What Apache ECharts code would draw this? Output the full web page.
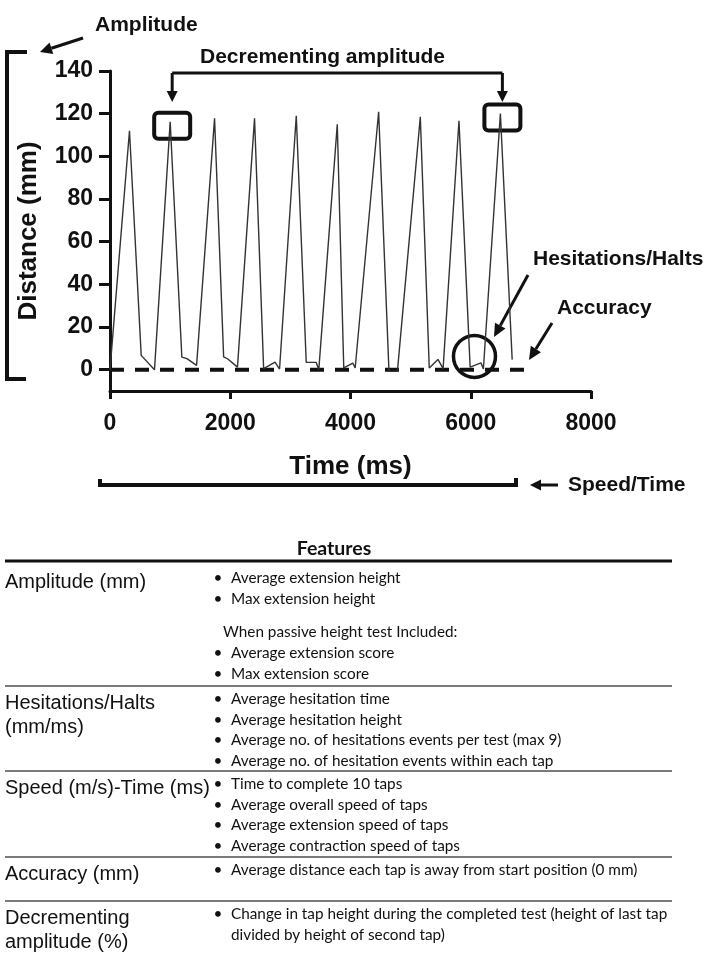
<!DOCTYPE html>
<html>
<head>
<meta charset="utf-8">
<title>Finger tapping trace</title>
<script src="https://cdn.jsdelivr.net/npm/echarts@6/dist/echarts.min.js"></script>
<style>
  html, body { margin: 0; padding: 0; background: #fff; }
  #chart { width: 719px; height: 958px; }
</style>
</head>
<body>
<div id="chart"></div>
<script>
// tap trace: time (ms) and distance (mm)
const tapTime = [0, 324, 519, 740, 1001, 1195, 1280, 1440, 1739, 1890, 1960, 2120,
  2404, 2555, 2745, 2820, 3098, 3264, 3430, 3473, 3780, 3888, 4038, 4078,
  4468, 4640, 4780, 5161, 5310, 5455, 5540, 5804, 5990, 6170, 6210, 6493, 6689]
const tapDist = [0, 112, 6.7, 0, 116.2, 5.9, 5.2, 2.0, 117.8, 6.0, 5.0, 1.2,
  117.8, 0.5, 3.5, 0.3, 119, 3.4, 3.4, 0, 115, 0.8, 3.1, 0.8,
  120.9, -0.8, -0.8, 118.5, 0.8, 4.8, 0.5, 116.7, 1.2, 3.2, 0.3, 120.1, 4.7]
// start position line (0 mm)
const baseTime = [0, 6900]
const baseDist = [0, 0]
const yTicks = [0, 20, 40, 60, 80, 100, 120, 140]
// hesitation highlighted by the circle (ms, mm)
const hesitationAt = [6062, 6.2]

const featureHeader = 'Features'
const featureNames = [
  ['Amplitude (mm)'],
  ['Hesitations/Halts', '(mm/ms)'],
  ['Speed (m/s)-Time (ms)'],
  ['Accuracy (mm)'],
  ['Decrementing', 'amplitude (%)']
]
// '~' = line without bullet, '' = small gap
const featureItems = [
  ['Average extension height', 'Max extension height', '',
    '~When passive height test Included:', 'Average extension score', 'Max extension score'],
  ['Average hesitation time', 'Average hesitation height',
    'Average no. of hesitations events per test (max 9)', 'Average no. of hesitation events within each tap'],
  ['Time to complete 10 taps', 'Average overall speed of taps',
    'Average extension speed of taps', 'Average contraction speed of taps'],
  ['Average distance each tap is away from start position (0 mm)'],
  ['Change in tap height during the completed test (height of last tap', '~divided by height of second tap)']
]

const ink = '#111'
const sans = '"Liberation Sans", Arial, sans-serif'
const bold = { fontFamily: sans, fontWeight: 'bold', color: ink }

const chart = echarts.init(document.getElementById('chart'))
chart.setOption({
  animation: false,
  backgroundColor: '#fff',
  grid: { left: 110, top: 71, width: 481, height: 320, outerBoundsMode: 'none' },
  xAxis: {
    type: 'value',
    min: 0,
    max: 8000,
    interval: 2000,
    name: 'Time (ms)',
    nameLocation: 'middle',
    nameGap: 63,
    nameTextStyle: Object.assign({ fontSize: 26 }, bold),
    axisLine: { onZero: false, lineStyle: { color: ink, width: 3 } },
    axisTick: { length: 8, lineStyle: { color: ink, width: 3 } },
    axisLabel: Object.assign({ fontSize: 23, margin: 21, formatter: v => String(v) }, bold),
    splitLine: { show: false }
  },
  yAxis: {
    type: 'value',
    min: -10,
    max: 140,
    name: 'Distance (mm)',
    nameLocation: 'middle',
    nameRotate: 90,
    nameGap: 68,
    nameTextStyle: Object.assign({ fontSize: 26 }, bold),
    axisLine: { onZero: false, lineStyle: { color: ink, width: 3 } },
    axisTick: { length: 11, customValues: yTicks, lineStyle: { color: ink, width: 3 } },
    axisLabel: Object.assign({ fontSize: 23, margin: 17, customValues: yTicks }, bold),
    splitLine: { show: false }
  },
  series: [
    {
      type: 'line',
      data: baseTime.map((t, i) => [t, baseDist[i]]),
      symbol: 'none',
      silent: true,
      lineStyle: { color: ink, width: 4, type: [14, 11], cap: 'butt' },
      z: 2
    },
    {
      type: 'line',
      data: tapTime.map((t, i) => [t, tapDist[i]]),
      symbol: 'none',
      lineStyle: { color: '#333', width: 1.4 },
      z: 3
    }
  ]
})

// ---- annotations ----
const px = p => chart.convertToPixel({ gridIndex: 0 }, p)

function arrow (x1, y1, x2, y2, len, half) {
  const a = Math.atan2(y2 - y1, x2 - x1)
  const bx = x2 - len * Math.cos(a)
  const by = y2 - len * Math.sin(a)
  const nx = -Math.sin(a) * half
  const ny = Math.cos(a) * half
  return [
    { type: 'line', shape: { x1: x1, y1: y1, x2: bx, y2: by }, style: { stroke: ink, lineWidth: 3 } },
    { type: 'polygon', shape: { points: [[x2, y2], [bx + nx, by + ny], [bx - nx, by - ny]] }, style: { fill: ink } }
  ]
}

function label (text, x, y, font, align) {
  return {
    type: 'text',
    style: {
      text: text, x: x, y: y, font: font, fill: ink,
      textAlign: align || 'left', align: align || 'left',
      textVerticalAlign: 'middle', verticalAlign: 'middle'
    }
  }
}

const annFont = 'bold 21px ' + sans
let els = []

// amplitude bracket
els.push({ type: 'polyline', shape: { points: [[27, 52], [7, 52], [7, 379], [26, 379]] }, style: { stroke: ink, lineWidth: 4, fill: null } })
els.push(label('Amplitude', 95, 25, annFont))
els = els.concat(arrow(83, 38, 40, 52, 12, 6))

// decrementing amplitude: boxes on the 2nd and last taps
const peaks = tapDist.map((v, i) => v > 50 ? i : -1).filter(i => i >= 0)
const boxes = [peaks[1], peaks[peaks.length - 1]].map(i => {
  const p = px([tapTime[i], tapDist[i]])
  return [p[0] + 2, p[1] + 4]
})
boxes.forEach(c => {
  els.push({ type: 'rect', shape: { x: c[0] - 18, y: c[1] - 13, width: 36, height: 26, r: 4 }, style: { stroke: ink, lineWidth: 4, fill: null } })
})
const linkY = 73
els.push({ type: 'line', shape: { x1: boxes[0][0], y1: linkY, x2: boxes[1][0], y2: linkY }, style: { stroke: ink, lineWidth: 3 } })
boxes.forEach(c => { els = els.concat(arrow(c[0], linkY, c[0], 102, 11, 5.5)) })
els.push(label('Decrementing amplitude', 200, 57, annFont))

// hesitation circle and pointers
const h = px(hesitationAt)
els.push({ type: 'circle', shape: { cx: h[0], cy: h[1], r: 21 }, style: { stroke: ink, lineWidth: 3.5, fill: null } })
els.push(label('Hesitations/Halts', 533, 259, annFont))
els = els.concat(arrow(528, 275, 494, 337, 13, 6))
els.push(label('Accuracy', 557, 308, annFont))
els = els.concat(arrow(552, 323, 529, 360, 13, 6))

// speed/time bracket
els.push({ type: 'polyline', shape: { points: [[100, 479], [100, 485], [516, 485], [516, 478]] }, style: { stroke: ink, lineWidth: 4, fill: null } })
els = els.concat(arrow(558, 485, 530, 485, 11, 5.5))
els.push(label('Speed/Time', 568, 485, annFont))

// ---- features table ----
const bodyFont = '15.3px Lato, "Open Sans", sans-serif'
const nameFont = '20px ' + sans
const rowLines = [561, 686, 771, 857, 901]
els.push(label(featureHeader, 334, 549, 'bold 19.5px Lato, "Open Sans", sans-serif', 'center'))
rowLines.forEach((ly, r) => {
  els.push({
    type: 'line',
    shape: { x1: 5, y1: ly, x2: 672, y2: ly },
    style: { stroke: r === 0 ? '#111' : '#7a7a7a', lineWidth: r === 0 ? 3 : 2 }
  })
  let y = ly + (r === 0 ? 17 : 13)
  const first = y
  featureItems[r].forEach(item => {
    if (item === '') { y += 13; return }
    if (item[0] === '~') {
      els.push(label(item.slice(1), r === 0 ? 223 : 231, y, bodyFont))
    } else {
      els.push(label('\u2022', 218, y, bodyFont, 'center'))
      els.push(label(item, 231, y, bodyFont))
    }
    y += 20.7
  })
  featureNames[r].forEach((n, k) => {
    els.push(label(n, 5, first + 4 + k * 24, nameFont))
  })
})

chart.setOption({ graphic: { elements: els } })
</script>
</body>
</html>
